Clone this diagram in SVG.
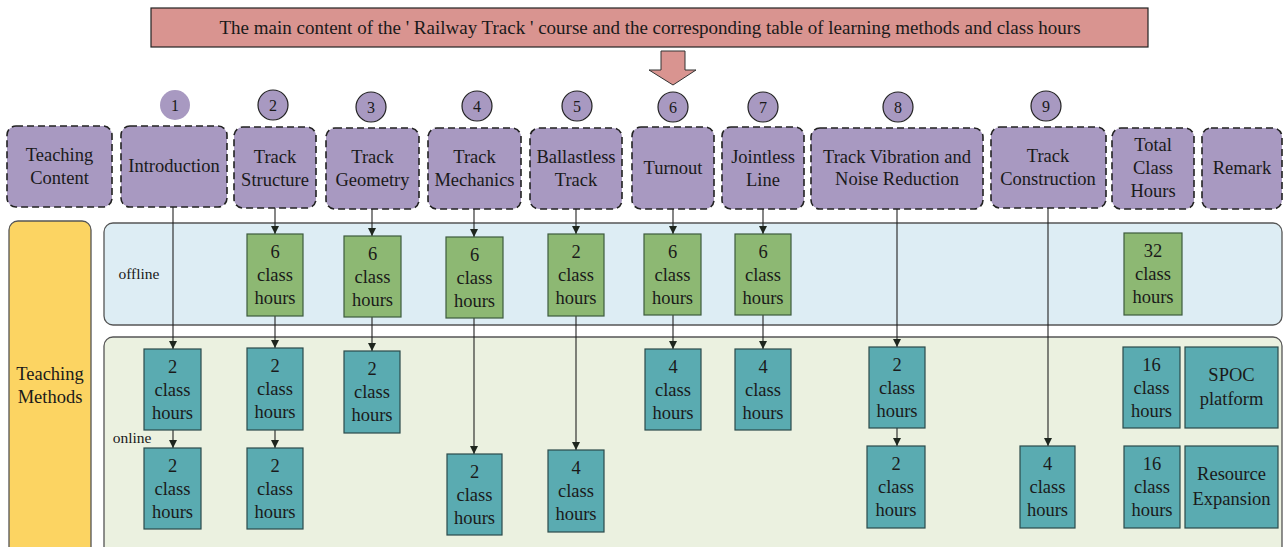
<svg xmlns="http://www.w3.org/2000/svg" width="1283" height="547" viewBox="0 0 1283 547">
<style>
text{font-family:"Liberation Serif","Times New Roman",serif;fill:#1a1a1a;text-anchor:middle}
.t{font-size:18.5px}
.s{font-size:15.5px}
.n{font-size:16px}
.hdr{fill:#a899c1;stroke:#222;stroke-width:1.6;stroke-dasharray:7 4}
.circ{fill:#a899c1;stroke:#222;stroke-width:1.2}
.g{fill:#8db873;stroke:#3d5a3d;stroke-width:1.2}
.b{fill:#5aabb1;stroke:#2b4a4a;stroke-width:1.2}
.ln{stroke:#222;stroke-width:1.1;fill:none;marker-end:url(#ah)}
</style>
<defs>
<marker id="ah" viewBox="0 0 10 10" refX="10" refY="5" markerWidth="8" markerHeight="8" markerUnits="userSpaceOnUse" orient="auto">
<path d="M0,0 L10,5 L0,10 z" fill="#1e261e"/>
</marker>
</defs>
<rect width="1283" height="547" fill="#fff"/>

<g id="title">
<rect x="151" y="8" width="997" height="39" fill="#d99490" stroke="#222" stroke-width="1.2"/>
<text x="650" y="34" style="font-size:19px">The main content of the ' Railway Track ' course and the corresponding table of learning methods and class hours</text>
</g>
<g id="bigarrow">
<path d="M661,51 L685,51 L685,70 L696,70 L673,85 L649,70 L661,70 z" fill="#d99490" stroke="#333" stroke-width="1"/>
</g>

<g id="bands">
<rect id="offline-band" x="104" y="223" width="1178" height="102" rx="9" fill="#ddedf4" stroke="#555" stroke-width="1.3"/>
<rect id="online-band" x="104" y="337" width="1178" height="220" rx="9" fill="#ebf1e0" stroke="#555" stroke-width="1.3"/>
<text class="s" x="139" y="279">offline</text>
<text class="s" x="132" y="443">online</text>
</g>

<g id="methods">
<rect x="9" y="221" width="82" height="340" rx="9" fill="#fcd462" stroke="#555" stroke-width="1.3"/>
<text class="t" x="50" y="380">Teaching</text>
<text class="t" x="50" y="403">Methods</text>
</g>

<g id="circles">
<circle cx="175" cy="105" r="15" fill="#a899c1"/><text class="n" x="175" y="110.5">1</text>
<circle class="circ" cx="273" cy="105" r="15"/><text class="n" x="273" y="110.5">2</text>
<circle class="circ" cx="371" cy="107" r="15"/><text class="n" x="371" y="112.5">3</text>
<circle class="circ" cx="477" cy="106" r="15"/><text class="n" x="477" y="111.5">4</text>
<circle class="circ" cx="577" cy="106" r="15"/><text class="n" x="577" y="111.5">5</text>
<circle class="circ" cx="673" cy="107" r="15"/><text class="n" x="673" y="112.5">6</text>
<circle class="circ" cx="763" cy="107" r="15"/><text class="n" x="763" y="112.5">7</text>
<circle class="circ" cx="898" cy="107" r="15"/><text class="n" x="898" y="112.5">8</text>
<circle class="circ" cx="1046" cy="106" r="15"/><text class="n" x="1046" y="111.5">9</text>
</g>

<g id="h-content"><rect class="hdr" x="7" y="126" width="105" height="81" rx="9"/><text class="t" x="59.5" y="161">Teaching</text><text class="t" x="59.5" y="184">Content</text></g>
<g id="h-intro"><rect class="hdr" x="121" y="126" width="106" height="81" rx="9"/><text class="t" x="174" y="172">Introduction</text></g>
<g id="h-structure"><rect class="hdr" x="234" y="127" width="82" height="81" rx="9"/><text class="t" x="275" y="163">Track</text><text class="t" x="275" y="186">Structure</text></g>
<g id="h-geometry"><rect class="hdr" x="326" y="128" width="93" height="81" rx="9"/><text class="t" x="372.5" y="163">Track</text><text class="t" x="372.5" y="186">Geometry</text></g>
<g id="h-mechanics"><rect class="hdr" x="428" y="128" width="93" height="81" rx="9"/><text class="t" x="474.5" y="163">Track</text><text class="t" x="474.5" y="186">Mechanics</text></g>
<g id="h-ballastless"><rect class="hdr" x="530" y="128" width="92" height="81" rx="9"/><text class="t" x="576" y="163">Ballastless</text><text class="t" x="576" y="186">Track</text></g>
<g id="h-turnout"><rect class="hdr" x="632" y="127" width="82" height="82" rx="9"/><text class="t" x="673" y="174">Turnout</text></g>
<g id="h-jointless"><rect class="hdr" x="722" y="127" width="82" height="82" rx="9"/><text class="t" x="763" y="163">Jointless</text><text class="t" x="763" y="186">Line</text></g>
<g id="h-vibration"><rect class="hdr" x="811" y="128" width="172" height="81" rx="9"/><text class="t" x="897" y="163">Track Vibration and</text><text class="t" x="897" y="185">Noise Reduction</text></g>
<g id="h-construction"><rect class="hdr" x="991" y="127" width="115" height="81" rx="9"/><text class="t" x="1048" y="162">Track</text><text class="t" x="1048" y="185">Construction</text></g>
<g id="h-total"><rect class="hdr" x="1112" y="128" width="82" height="81" rx="9"/><text class="t" x="1153" y="151">Total</text><text class="t" x="1153" y="174">Class</text><text class="t" x="1153" y="197">Hours</text></g>
<g id="h-remark"><rect class="hdr" x="1202" y="128" width="80" height="81" rx="9"/><text class="t" x="1242" y="174">Remark</text></g>

<g id="connectors">
<line class="ln" x1="173" y1="207" x2="173" y2="349"/>
<line class="ln" x1="173" y1="430" x2="173" y2="448"/>
<line class="ln" x1="275" y1="208" x2="275" y2="234"/>
<line class="ln" x1="275" y1="316" x2="275" y2="348"/>
<line class="ln" x1="275" y1="430" x2="275" y2="448"/>
<line class="ln" x1="372" y1="209" x2="372" y2="236"/>
<line class="ln" x1="372" y1="317" x2="372" y2="351"/>
<line class="ln" x1="474" y1="209" x2="474" y2="237"/>
<line class="ln" x1="474" y1="318" x2="474" y2="454"/>
<line class="ln" x1="576" y1="209" x2="576" y2="234"/>
<line class="ln" x1="576" y1="316" x2="576" y2="450"/>
<line class="ln" x1="673" y1="209" x2="673" y2="234"/>
<line class="ln" x1="673" y1="315" x2="673" y2="349"/>
<line class="ln" x1="763" y1="209" x2="763" y2="234"/>
<line class="ln" x1="763" y1="315" x2="763" y2="349"/>
<line class="ln" x1="897" y1="209" x2="897" y2="347"/>
<line class="ln" x1="897" y1="428" x2="897" y2="446"/>
<line class="ln" x1="1048" y1="208" x2="1048" y2="446"/>
</g>

<g id="off-structure"><rect class="g" x="247" y="234" width="56" height="82"/><text class="t" x="275" y="258">6</text><text class="t" x="275" y="281">class</text><text class="t" x="275" y="304">hours</text></g>
<g id="off-geometry"><rect class="g" x="344" y="236" width="57" height="81"/><text class="t" x="372.5" y="259.5">6</text><text class="t" x="372.5" y="282.5">class</text><text class="t" x="372.5" y="305.5">hours</text></g>
<g id="off-mechanics"><rect class="g" x="446" y="237" width="57" height="81"/><text class="t" x="474.5" y="260.5">6</text><text class="t" x="474.5" y="283.5">class</text><text class="t" x="474.5" y="306.5">hours</text></g>
<g id="off-ballastless"><rect class="g" x="548" y="234" width="56" height="82"/><text class="t" x="576" y="258">2</text><text class="t" x="576" y="281">class</text><text class="t" x="576" y="304">hours</text></g>
<g id="off-turnout"><rect class="g" x="644" y="234" width="57" height="81"/><text class="t" x="672.5" y="257.5">6</text><text class="t" x="672.5" y="280.5">class</text><text class="t" x="672.5" y="303.5">hours</text></g>
<g id="off-jointless"><rect class="g" x="735" y="234" width="56" height="81"/><text class="t" x="763" y="257.5">6</text><text class="t" x="763" y="280.5">class</text><text class="t" x="763" y="303.5">hours</text></g>
<g id="off-total"><rect class="g" x="1124" y="233" width="58" height="82"/><text class="t" x="1153" y="257">32</text><text class="t" x="1153" y="280">class</text><text class="t" x="1153" y="303">hours</text></g>

<g id="on-intro-1"><rect class="b" x="144" y="349" width="57" height="81"/><text class="t" x="172.5" y="372.5">2</text><text class="t" x="172.5" y="395.5">class</text><text class="t" x="172.5" y="418.5">hours</text></g>
<g id="on-structure-1"><rect class="b" x="247" y="348" width="56" height="82"/><text class="t" x="275" y="372">2</text><text class="t" x="275" y="395">class</text><text class="t" x="275" y="418">hours</text></g>
<g id="on-geometry-1"><rect class="b" x="344" y="351" width="56" height="82"/><text class="t" x="372" y="375">2</text><text class="t" x="372" y="398">class</text><text class="t" x="372" y="421">hours</text></g>
<g id="on-turnout-1"><rect class="b" x="645" y="349" width="56" height="81"/><text class="t" x="673" y="372.5">4</text><text class="t" x="673" y="395.5">class</text><text class="t" x="673" y="418.5">hours</text></g>
<g id="on-jointless-1"><rect class="b" x="735" y="349" width="56" height="81"/><text class="t" x="763" y="372.5">4</text><text class="t" x="763" y="395.5">class</text><text class="t" x="763" y="418.5">hours</text></g>
<g id="on-vibration-1"><rect class="b" x="869" y="347" width="56" height="81"/><text class="t" x="897" y="370.5">2</text><text class="t" x="897" y="393.5">class</text><text class="t" x="897" y="416.5">hours</text></g>
<g id="on-total-1"><rect class="b" x="1123" y="347" width="57" height="81"/><text class="t" x="1151.5" y="370.5">16</text><text class="t" x="1151.5" y="393.5">class</text><text class="t" x="1151.5" y="416.5">hours</text></g>
<g id="on-spoc"><rect class="b" x="1185" y="347" width="93" height="81"/><text class="t" x="1231.5" y="381">SPOC</text><text class="t" x="1231.5" y="405">platform</text></g>

<g id="on-intro-2"><rect class="b" x="144" y="448" width="57" height="81"/><text class="t" x="172.5" y="471.5">2</text><text class="t" x="172.5" y="494.5">class</text><text class="t" x="172.5" y="517.5">hours</text></g>
<g id="on-structure-2"><rect class="b" x="247" y="448" width="56" height="81"/><text class="t" x="275" y="471.5">2</text><text class="t" x="275" y="494.5">class</text><text class="t" x="275" y="517.5">hours</text></g>
<g id="on-mechanics-2"><rect class="b" x="447" y="454" width="55" height="81"/><text class="t" x="474.5" y="477.5">2</text><text class="t" x="474.5" y="500.5">class</text><text class="t" x="474.5" y="523.5">hours</text></g>
<g id="on-ballastless-2"><rect class="b" x="548" y="450" width="56" height="82"/><text class="t" x="576" y="474">4</text><text class="t" x="576" y="497">class</text><text class="t" x="576" y="520">hours</text></g>
<g id="on-vibration-2"><rect class="b" x="867" y="446" width="58" height="82"/><text class="t" x="896" y="470">2</text><text class="t" x="896" y="493">class</text><text class="t" x="896" y="516">hours</text></g>
<g id="on-construction-2"><rect class="b" x="1020" y="446" width="55" height="82"/><text class="t" x="1047.5" y="470">4</text><text class="t" x="1047.5" y="493">class</text><text class="t" x="1047.5" y="516">hours</text></g>
<g id="on-total-2"><rect class="b" x="1124" y="446" width="56" height="82"/><text class="t" x="1152" y="470">16</text><text class="t" x="1152" y="493">class</text><text class="t" x="1152" y="516">hours</text></g>
<g id="on-resource"><rect class="b" x="1185" y="446" width="93" height="82"/><text class="t" x="1231.5" y="480">Resource</text><text class="t" x="1231.5" y="505">Expansion</text></g>
</svg>
